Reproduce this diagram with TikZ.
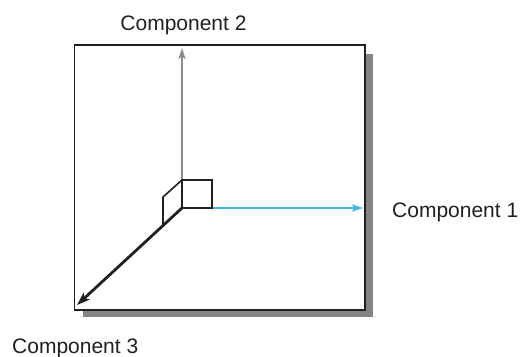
\documentclass[tikz,border=0pt]{standalone}
\usepackage{fontspec}
\setmainfont{Liberation Sans}
\usetikzlibrary{arrows.meta}
\definecolor{axgray}{HTML}{8C8C8E}
\definecolor{axblue}{HTML}{3BB6E6}
\definecolor{shadowgray}{HTML}{848487}
\definecolor{ink}{HTML}{231F20}
\begin{document}
\begin{tikzpicture}[x=1pt,y=-1pt,
  lbl/.style={font=\fontsize{21}{25}\selectfont, text=ink, inner sep=0pt},
  tipsmall/.style={-{Stealth[length=11pt,width=7pt,inset=2.5pt]}},
  tipbig/.style={-{Stealth[length=13pt,width=9pt,inset=3pt]}}]
\useasboundingbox (0,0) rectangle (521,356);
% shadow and frame
\fill[shadowgray] (83,54) rectangle (373,317);
\filldraw[fill=white, draw=ink, line width=1.6pt] (74.5,45) rectangle (365,310);
% coordinates
\coordinate (O) at (182,208);
\coordinate (Y) at (182,48);
\coordinate (X) at (363,208);
\coordinate (Z) at (77,305);
\coordinate (SQ) at (212,180);
\coordinate (SL) at (182,180);
\coordinate (P1) at (163,197);
\coordinate (P2) at (163,225.5);
% axes
\draw[axgray, line width=2.4pt, tipsmall] (O) -- (Y);
\draw[axblue, line width=2.4pt, tipsmall] (O) -- (X);
\draw[ink, line width=1.6pt] (O) rectangle (SQ);
\draw[ink, line width=1.6pt, line join=miter] (SL) -- (P1) -- (P2);
\draw[ink, line width=2.8pt, tipbig] (O) -- (Z);
% labels
\node[lbl, anchor=base west] (c1) at (392,217) {Component 1};
\node[lbl, anchor=base] (c2) at (183.5,30) {Component 2};
\node[lbl, anchor=base west] (c3) at (12,353) {Component 3};
\end{tikzpicture}
\end{document}
